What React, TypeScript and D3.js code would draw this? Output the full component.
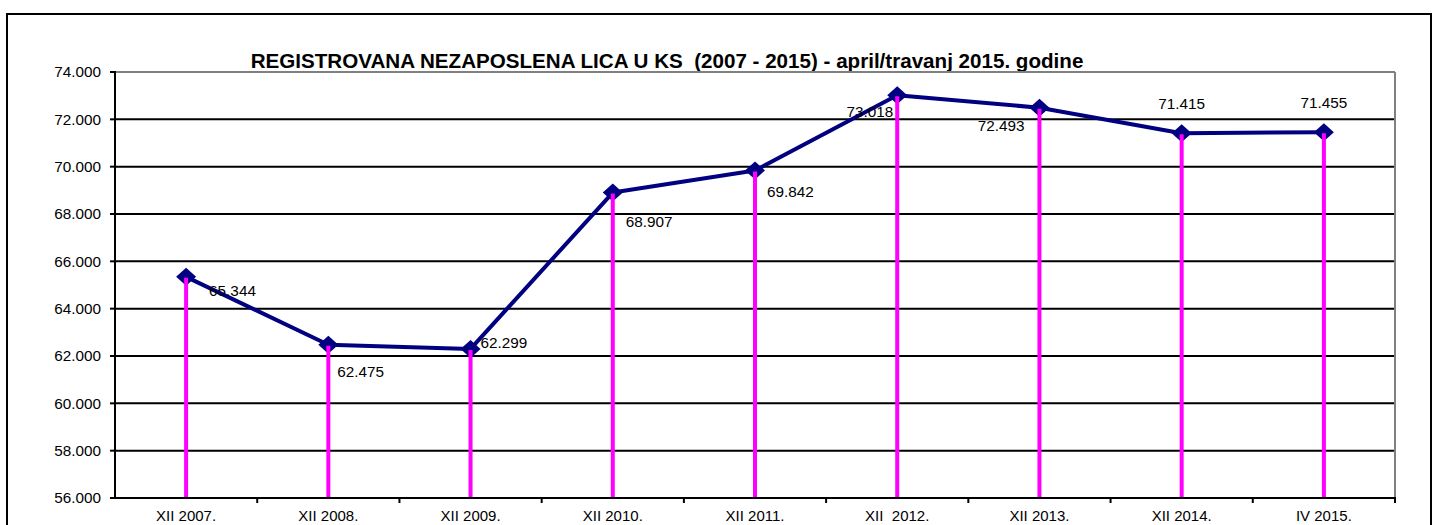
import * as d3 from 'd3';
import React from 'react';

const categories = [
  'XII 2007.',
  'XII 2008.',
  'XII 2009.',
  'XII 2010.',
  'XII 2011.',
  'XII \u00a02012.',
  'XII 2013.',
  'XII 2014.',
  'IV 2015.',
];
const values = [65344, 62475, 62299, 68907, 69842, 73018, 72493, 71415, 71455];
const valueLabels = ['65.344', '62.475', '62.299', '68.907', '69.842', '73.018', '72.493', '71.415', '71.455'];
const yTicks = [56000, 58000, 60000, 62000, 64000, 66000, 68000, 70000, 72000, 74000];
const title = 'REGISTROVANA NEZAPOSLENA LICA U KS \u00a0(2007 - 2015) - april/travanj 2015. godine';

// label placement per point, like the Excel sheet did it
const labelPos = [
  { dx: 23, dy: 19, anchor: 'start' },
  { dx: 9, dy: 32, anchor: 'start' },
  { dx: 10, dy: -1, anchor: 'start' },
  { dx: 13, dy: 34, anchor: 'start' },
  { dx: 12, dy: 27, anchor: 'start' },
  { dx: -4, dy: 22, anchor: 'end' },
  { dx: -15, dy: 23, anchor: 'end' },
  { dx: 0, dy: -24, anchor: 'middle' },
  { dx: 0, dy: -24, anchor: 'middle' },
];

const font = 'Arial, "Liberation Sans", sans-serif';

const App: React.FC = () => {
  const width = 1438;
  const height = 525;
  const plot = { left: 115, top: 72, right: 1395, bottom: 498 };

  const x = d3.scaleBand<string>().domain(categories).range([plot.left, plot.right]);
  const y = d3.scaleLinear().domain([56000, 74000]).range([plot.bottom, plot.top]);
  const cx = (i: number) => (x(categories[i]) ?? 0) + x.bandwidth() / 2;

  const line = d3
    .line<number>()
    .x((_, i) => cx(i))
    .y((d) => y(d));

  const fmt = (v: number) => d3.format(',.3f')(v / 1000).replace(',', '');

  return (
    <svg
      width={width}
      height={height}
      style={{ position: 'absolute', left: 0, top: 0, background: '#fff' }}
      fontFamily={font}
    >
      <rect x={0} y={0} width={width} height={height} fill="#fff" />
      <rect x={7} y={14} width={1424} height={540} fill="none" stroke="#000" strokeWidth={2} />

      <text x={667} y={68} textAnchor="middle" fontSize={20.6} fontWeight="bold">
        {title}
      </text>

      {yTicks.map((t) => (
        <g key={`g-${t}`}>
          {t !== 74000 && t !== 56000 && (
            <line x1={plot.left} x2={plot.right} y1={y(t)} y2={y(t)} stroke="#000" strokeWidth={2} />
          )}
          <line x1={plot.left - 5} x2={plot.left} y1={y(t)} y2={y(t)} stroke="#000" strokeWidth={2} />
          <text x={101} y={y(t)} dy="0.35em" textAnchor="end" fontSize={15.3}>
            {fmt(t)}
          </text>
        </g>
      ))}

      <line x1={plot.left} x2={plot.right} y1={plot.top} y2={plot.top} stroke="#808080" strokeWidth={2} />
      <line x1={plot.right} x2={plot.right} y1={plot.top} y2={plot.bottom} stroke="#808080" strokeWidth={2} />
      <line x1={plot.left} x2={plot.left} y1={plot.top - 1} y2={plot.bottom} stroke="#000" strokeWidth={2} />
      <line x1={plot.left} x2={plot.right + 1} y1={plot.bottom} y2={plot.bottom} stroke="#000" strokeWidth={2} />

      {categories.map((c, i) => (
        <g key={c}>
          <line
            x1={(x(c) ?? 0) + x.bandwidth()}
            x2={(x(c) ?? 0) + x.bandwidth()}
            y1={plot.bottom}
            y2={plot.bottom + 5}
            stroke="#000"
            strokeWidth={2}
          />
          <text x={cx(i)} y={521} textAnchor="middle" fontSize={15}>
            {c}
          </text>
        </g>
      ))}

      <path d={line(values) ?? ''} fill="none" stroke="#000080" strokeWidth={4} strokeLinejoin="round" />

      {values.map((v, i) => (
        <path
          key={`m-${i}`}
          d={`M${cx(i)},${y(v) - 9}L${cx(i) + 10},${y(v)}L${cx(i)},${y(v) + 9}L${cx(i) - 10},${y(v)}Z`}
          fill="#000080"
        />
      ))}

      {values.map((v, i) => (
        <line
          key={`d-${i}`}
          x1={cx(i)}
          x2={cx(i)}
          y1={y(v) + 1}
          y2={plot.bottom - 1}
          stroke="#ff00ff"
          strokeWidth={4}
        />
      ))}

      {values.map((v, i) => (
        <text
          key={`l-${i}`}
          x={cx(i) + labelPos[i].dx}
          y={y(v) + labelPos[i].dy}
          textAnchor={labelPos[i].anchor}
          fontSize={15.3}
        >
          {valueLabels[i]}
        </text>
      ))}
    </svg>
  );
};

export default App;
